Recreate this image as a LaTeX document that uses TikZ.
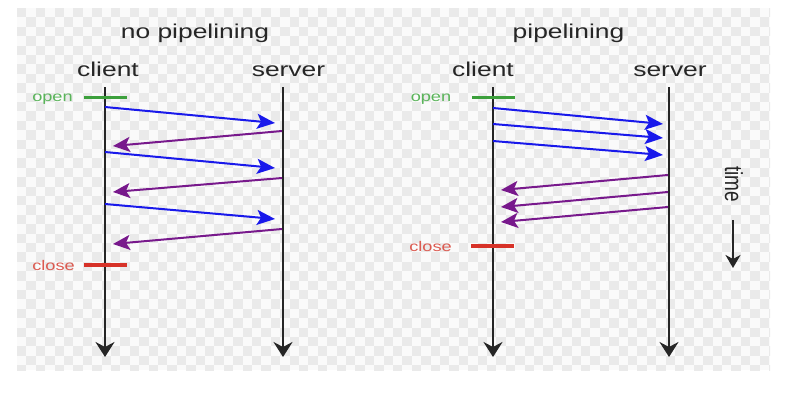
\documentclass[tikz,border=0pt]{standalone}
\usepackage{fontspec}
\setmainfont{Liberation Sans}
\usetikzlibrary{arrows.meta}
\definecolor{chkA}{RGB}{250,250,250}
\definecolor{chkB}{RGB}{234,234,234}
\definecolor{msgblue}{RGB}{25,25,235}
\definecolor{msgpurple}{RGB}{120,25,140}
\definecolor{opengreen}{RGB}{60,160,60}
\definecolor{opentext}{RGB}{90,180,90}
\definecolor{closered}{RGB}{215,50,40}
\definecolor{closetext}{RGB}{220,90,80}
\tikzset{
  lifeline/.style={draw=black!85, line width=2pt, -{Stealth[length=15pt,width=19pt,inset=5pt]}},
  req/.style={draw=msgblue, line width=2pt, -{Stealth[length=18pt,width=15pt,inset=4pt]}},
  resp/.style={draw=msgpurple, line width=2pt, -{Stealth[length=17pt,width=15pt,inset=4pt]}},
  openbar/.style={draw=opengreen, line width=3.5pt},
  closebar/.style={draw=closered, line width=3.5pt},
  bigtxt/.style={inner sep=0pt, anchor=base, xscale=1.32, font=\fontsize{20}{24}\selectfont, text=black!85},
  smalltxt/.style={inner sep=0pt, anchor=base, xscale=1.3, font=\fontsize{14}{17}\selectfont},
}
\begin{document}
\begin{tikzpicture}[x=1pt,y=-1pt]
\useasboundingbox (0,0) rectangle (804,410);
\fill[white] (0,0) rectangle (804,410);
% checkerboard background
\begin{scope}
\clip (17,8) rectangle (770,370);
\fill[chkA] (17,8) rectangle (770,370);
\foreach \i [evaluate=\i as \o using {int(mod(\i,2))}] in {0,...,80}{
  \foreach \j in {0,2,...,38}{
    \fill[chkB] ({17+9.4*\i},{8+9.4*(\j+\o)}) rectangle ++(9.4,9.4);
  }
}
\end{scope}

% ---------- left: no pipelining ----------
\node[bigtxt] (t1) at (195,38) {no pipelining};
\node[bigtxt] (lc) at (108,76) {client};
\node[bigtxt] (ls) at (288.5,76) {server};
\coordinate (lctop) at (105,87);
\coordinate (lcbot) at (105,357);
\coordinate (lstop) at (283,87);
\coordinate (lsbot) at (283,357);
\draw[lifeline] (lctop) -- (lcbot);
\draw[lifeline] (lstop) -- (lsbot);
\node[smalltxt, text=opentext] (lopen) at (52.5,101.5) {open};
\coordinate (lo1) at (84,97.5); \coordinate (lo2) at (127,97.5);
\draw[openbar] (lo1) -- (lo2);
\node[smalltxt, text=closetext] (lclose) at (53.5,270) {close};
\coordinate (lx1) at (84,265); \coordinate (lx2) at (127,265);
\draw[closebar] (lx1) -- (lx2);
% messages
\coordinate (la1) at (105,107); \coordinate (lb1) at (275,123);
\coordinate (la2) at (282,131); \coordinate (lb2) at (113,146);
\coordinate (la3) at (105,152); \coordinate (lb3) at (275,168);
\coordinate (la4) at (282,178); \coordinate (lb4) at (113,192);
\coordinate (la5) at (105,204); \coordinate (lb5) at (275,219);
\coordinate (la6) at (282,229); \coordinate (lb6) at (113,244);
\draw[req] (la1) -- (lb1);
\draw[resp] (la2) -- (lb2);
\draw[req] (la3) -- (lb3);
\draw[resp] (la4) -- (lb4);
\draw[req] (la5) -- (lb5);
\draw[resp] (la6) -- (lb6);

% ---------- right: pipelining ----------
\node[bigtxt] (t2) at (568.5,38) {pipelining};
\node[bigtxt] (rc) at (483,76) {client};
\node[bigtxt] (rs) at (670,76) {server};
\coordinate (rctop) at (493,87);
\coordinate (rcbot) at (493,357);
\coordinate (rstop) at (669,87);
\coordinate (rsbot) at (669,357);
\draw[lifeline] (rctop) -- (rcbot);
\draw[lifeline] (rstop) -- (rsbot);
\node[smalltxt, text=opentext] (ropen) at (431,101.5) {open};
\coordinate (ro1) at (472,97.5); \coordinate (ro2) at (515,97.5);
\draw[openbar] (ro1) -- (ro2);
\node[smalltxt, text=closetext] (rclose) at (430.5,251) {close};
\coordinate (rx1) at (471,246); \coordinate (rx2) at (514,246);
\draw[closebar] (rx1) -- (rx2);
% messages
\coordinate (ra1) at (493,108); \coordinate (rb1) at (663,124);
\coordinate (ra2) at (493,124); \coordinate (rb2) at (663,138);
\coordinate (ra3) at (493,141); \coordinate (rb3) at (663,155);
\coordinate (ra4) at (668,175); \coordinate (rb4) at (501,190);
\coordinate (ra5) at (668,192); \coordinate (rb5) at (501,207);
\coordinate (ra6) at (668,207); \coordinate (rb6) at (501,222);
\draw[req] (ra1) -- (rb1);
\draw[req] (ra2) -- (rb2);
\draw[req] (ra3) -- (rb3);
\draw[resp] (ra4) -- (rb4);
\draw[resp] (ra5) -- (rb5);
\draw[resp] (ra6) -- (rb6);

% ---------- time ----------
\node[inner sep=0pt, xscale=1.3, rotate=-90, font=\fontsize{19}{22}\selectfont, text=black!85] (time) at (734,184) {time};
\coordinate (tm1) at (733,220); \coordinate (tm2) at (733,268);
\draw[draw=black!85, line width=2pt, -{Stealth[length=13pt,width=15pt,inset=4pt]}] (tm1) -- (tm2);
\end{tikzpicture}
\end{document}
